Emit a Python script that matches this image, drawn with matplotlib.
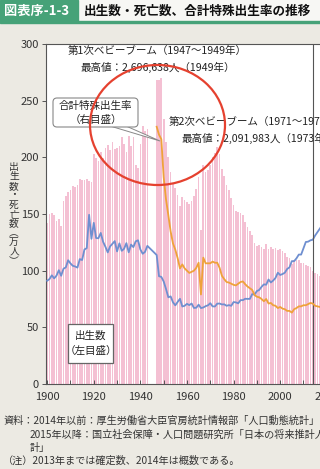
import matplotlib
matplotlib.use("Agg")
import matplotlib.pyplot as plt
import matplotlib.transforms as mtransforms
from matplotlib.patches import Rectangle, FancyBboxPatch, Ellipse, Polygon

plt.rcParams['font.family'] = ['Noto Sans CJK JP', 'DejaVu Sans']

W, H = 320, 469

# 出生数（万人） 1900-1943, 1947-2020（2015年以降は推計）
birth_years = list(range(1900, 1944)) + list(range(1947, 2021))
births = [
    142.0, 150.1, 151.0, 148.9, 144.0, 145.2, 139.5, 161.5, 166.3, 169.3,
    171.2, 174.7, 173.7, 175.7, 180.8, 179.9, 180.4, 181.3, 179.2, 177.9,
    202.6, 199.1, 196.9, 204.3, 199.8, 208.6, 210.5, 206.1, 213.6, 207.7,
    208.5, 210.3, 218.3, 212.2, 204.4, 219.1, 210.2, 218.1, 192.8, 190.2,
    211.6, 227.7, 223.4, 225.4,
    267.9, 268.2, 269.7,
    233.8, 213.8, 200.5, 186.8, 177.0, 173.1, 166.5, 156.7, 165.3, 162.6,
    160.6, 158.9, 161.9, 166.0, 171.7, 182.4, 136.1, 193.6, 187.2, 189.0,
    193.4, 200.1, 203.9, 209.2, 203.0, 190.1, 183.3, 175.5, 170.9, 164.3,
    157.7, 152.9, 151.5, 150.9, 149.0, 143.2, 138.3, 134.7, 131.4, 124.7,
    122.2, 122.3, 120.9, 118.8, 123.8, 118.7, 120.7, 119.2, 120.3, 117.8,
    119.1, 117.1, 115.4, 112.4, 111.1, 106.3, 109.3, 109.0, 109.1, 107.0,
    107.1, 105.1, 103.7, 103.0, 100.1,
    98.0, 96.8, 95.6, 94.4, 93.2, 92.0,
]

# 死亡数（万人）
deaths = [
    91.1, 92.6, 95.9, 93.2, 95.6, 100.4, 95.5, 101.7, 102.9, 109.2,
    106.4, 104.3, 103.7, 102.7, 110.2, 109.4, 118.7, 119.9, 149.3, 128.1,
    142.2, 128.8, 128.6, 133.3, 125.5, 121.1, 116.1, 121.4, 123.7, 126.1,
    117.0, 124.1, 117.5, 119.3, 124.3, 116.2, 123.0, 120.8, 125.9, 126.8,
    118.7, 114.9, 116.6, 121.9,
    113.8, 95.1, 94.5,
    90.5, 83.9, 76.5, 77.3, 72.1, 69.4, 72.4, 75.2, 68.4, 69.0,
    70.7, 69.6, 71.0, 67.1, 67.3, 70.0, 67.0, 67.5, 68.7, 69.4,
    71.3, 68.5, 68.4, 70.9, 71.0, 70.2, 70.3, 69.0, 69.6, 69.0,
    72.3, 72.0, 71.2, 74.0, 74.0, 75.2, 75.1, 75.1, 79.3, 78.9,
    82.0, 83.0, 85.7, 87.9, 87.6, 92.2, 89.6, 91.3, 93.6, 98.2,
    96.2, 97.0, 98.2, 101.5, 102.9, 108.4, 108.4, 110.9, 114.2, 114.2,
    119.7, 125.3, 125.6, 126.8, 127.3,
    131.0, 134.0, 137.0, 140.0, 142.0, 144.0,
]

# 合計特殊出生率 1947-2020
tfr_years = list(range(1947, 2021))
tfr = [
    4.54, 4.40, 4.32,
    3.65, 3.26, 2.98, 2.69, 2.48, 2.37, 2.22, 2.04, 2.11, 2.04,
    2.00, 1.96, 1.98, 2.00, 2.05, 2.14, 1.58, 2.23, 2.13, 2.13,
    2.13, 2.16, 2.14, 2.14, 2.05, 1.91, 1.85, 1.80, 1.79, 1.77,
    1.75, 1.74, 1.77, 1.80, 1.81, 1.76, 1.72, 1.69, 1.66, 1.57,
    1.54, 1.53, 1.50, 1.46, 1.50, 1.42, 1.43, 1.39, 1.38, 1.34,
    1.36, 1.33, 1.32, 1.29, 1.29, 1.26, 1.32, 1.34, 1.37, 1.37,
    1.39, 1.39, 1.41, 1.43, 1.42,
    1.38, 1.37, 1.36, 1.35, 1.35, 1.34,
]

x_ticks = list(range(1900, 2061, 10))
x_labels = [str(t) if t % 20 == 0 else '' for t in x_ticks]
y_ticks = [0, 50, 100, 150, 200, 250, 300]

fig = plt.figure(figsize=(W / 100, H / 100), dpi=100)
fig.patch.set_facecolor('#eceae3')

# 画像ピクセル座標（左上原点）
T = mtransforms.Affine2D().scale(1 / 100, -1 / 100).translate(0, H / 100) + fig.dpi_scale_trans

# ヘッダー
fig.add_artist(Rectangle((0, 0), W, 21, transform=T, color='#f7f7f4', zorder=0))
fig.add_artist(Rectangle((0, 0), 78, 21, transform=T, color='#46a278', zorder=1))
fig.add_artist(Rectangle((0, 21), W, 2.5, transform=T, color='#46a278', zorder=1))
fig.text(4, 11, '図表序-1-3', transform=T, color='white', fontsize=9.5,
         fontweight='bold', va='center', ha='left')
fig.text(84, 11, '出生数・死亡数、合計特殊出生率の推移', transform=T, color='#111111',
         fontsize=9.1, fontweight='bold', va='center', ha='left')

# 軸
px_per_year = 2.33
x0, x1 = 1899.5, 2060.5
ax = fig.add_axes([46 / W, (H - 384) / H, (x1 - x0) * px_per_year / W, 340 / H])
ax.set_facecolor('white')
ax.bar(birth_years, births, width=0.72, color='#f4c0d3', linewidth=0, zorder=1)
ax.plot(birth_years, deaths, color='#6f8fd0', linewidth=1.3, zorder=3)
ax.axvline(2014, color='#555555', linewidth=0.8, zorder=4)
ax.set_xlim(x0, x1)
ax.set_ylim(0, 300)
ax.set_yticks(y_ticks)
ax.set_xticks(x_ticks)
ax.set_xticklabels(x_labels)
ax.tick_params(axis='y', direction='out', length=3, width=0.7, colors='#555555',
               labelcolor='#333333', labelsize=8, pad=2)
ax.tick_params(axis='x', direction='in', length=3, width=0.7, colors='#555555',
               labelcolor='#333333', labelsize=8, pad=6)
for s in ax.spines.values():
    s.set_color('#555555')
    s.set_linewidth(0.8)

ax2 = ax.twinx()
ax2.plot(tfr_years, tfr, color='#efa23a', linewidth=1.3, zorder=3)
ax2.set_ylim(0, 6)
ax2.set_yticks([])
for s in ax2.spines.values():
    s.set_visible(False)

# 縦書きの軸ラベル
ylabel_chars = ['出', '生', '数', '・', '死', '亡', '数', '︵', '万', '人', '︶']
for i, ch in enumerate(ylabel_chars):
    fig.text(14, 167 + i * 9.4, ch, transform=T, fontsize=7, color='#333333',
             ha='center', va='center')

# 注記
fig.text(68, 51, '第1次ベビーブーム（1947〜1949年）', transform=T, fontsize=7.6,
         color='#222222', ha='left', va='center', zorder=6)
fig.text(80, 67, '最高値：2,696,638人（1949年）', transform=T, fontsize=7.6,
         color='#222222', ha='left', va='center', zorder=6)
fig.text(169, 122, '第2次ベビーブーム（1971〜1974年）', transform=T, fontsize=7.6,
         color='#222222', ha='left', va='center', zorder=6)
fig.text(181, 138, '最高値：2,091,983人（1973年）', transform=T, fontsize=7.6,
         color='#222222', ha='left', va='center', zorder=6)

fig.add_artist(Polygon([(110, 126), (126, 126), (160, 141)], closed=True, transform=T,
                       facecolor='white', edgecolor='#888888', linewidth=0.7, zorder=5))
fig.add_artist(FancyBboxPatch((56, 101), 79, 23, boxstyle='round,pad=3,rounding_size=4',
                              transform=T, facecolor='white', edgecolor='#888888',
                              linewidth=0.8, zorder=5))
fig.text(95.5, 106, '合計特殊出生率', transform=T, fontsize=7.6, color='#222222',
         ha='center', va='center', zorder=6)
fig.text(95.5, 120, '（右目盛）', transform=T, fontsize=7.6, color='#222222',
         ha='center', va='center', zorder=6)

fig.add_artist(Rectangle((68, 324), 45, 39, transform=T, facecolor='white',
                         edgecolor='#666666', linewidth=0.9, zorder=5))
fig.text(90.5, 336, '出生数', transform=T, fontsize=7.6, color='#222222',
         ha='center', va='center', zorder=6)
fig.text(90.5, 351, '（左目盛）', transform=T, fontsize=7.6, color='#222222',
         ha='center', va='center', zorder=6)

fig.add_artist(Ellipse((157.5, 125), 135, 120, transform=T, facecolor='none',
                       edgecolor='#e5412f', linewidth=1.6, zorder=7))

# 出典
notes = [
    (3, 421, '資料：2014年以前：厚生労働省大臣官房統計情報部「人口動態統計」'),
    (30, 435, '2015年以降：国立社会保障・人口問題研究所「日本の将来推計人口」'),
    (30, 448, '計」'),
    (3, 461, '（注）2013年までは確定数、2014年は概数である。'),
]
for nx, ny, s in notes:
    fig.text(nx, ny, s, transform=T, fontsize=7.3, color='#333333', ha='left', va='center')

fig.savefig('out.png', dpi=100, facecolor=fig.get_facecolor())
